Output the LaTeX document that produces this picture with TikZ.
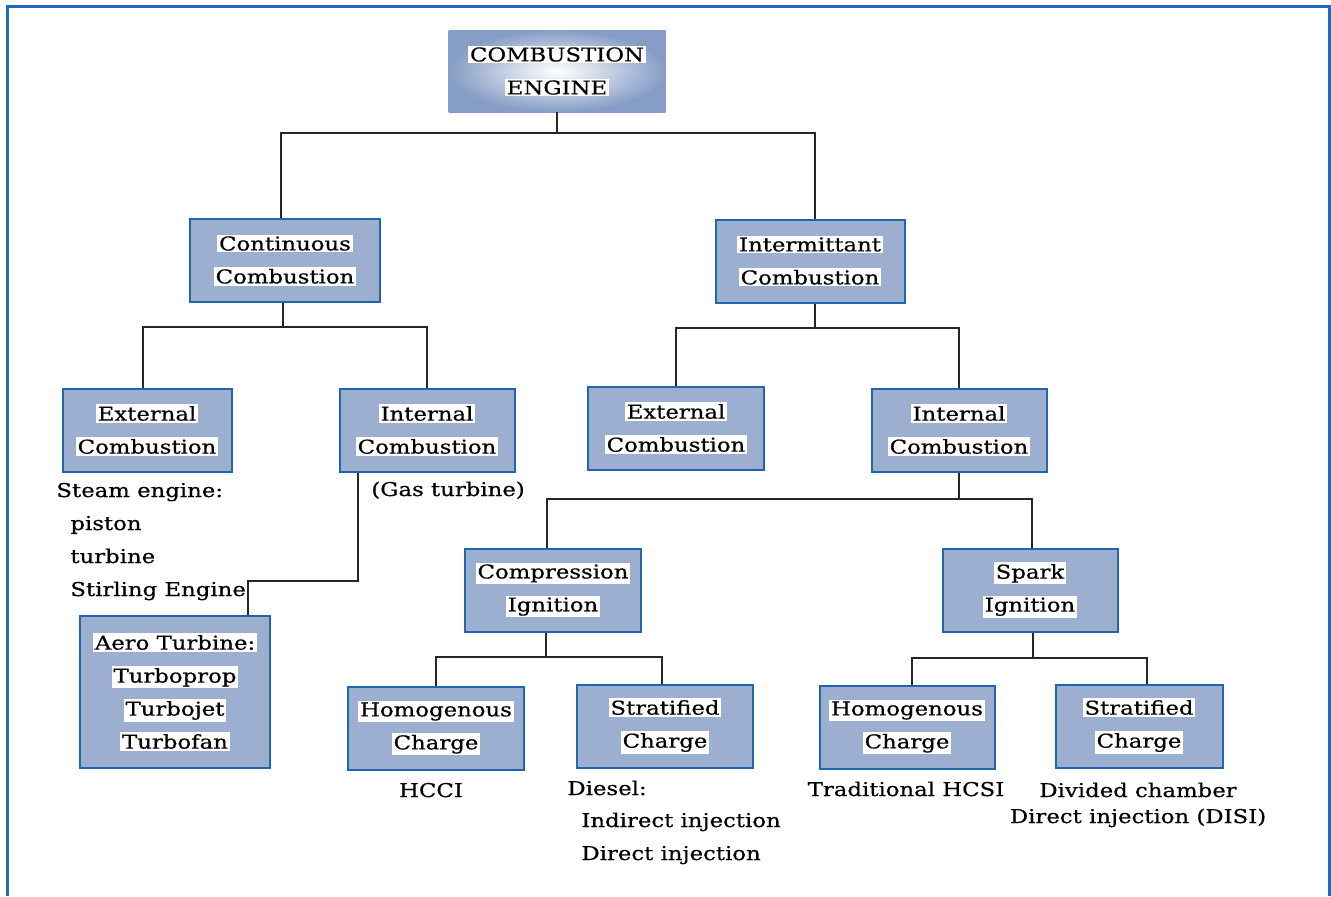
\documentclass[tikz,border=0pt]{standalone}
\usepackage{fontspec}
\setmainfont[FakeStretch=1.2, FakeBold=0.6]{DejaVu Serif}
\definecolor{boxfill}{HTML}{9DAFD1}
\definecolor{boxline}{HTML}{2166AD}
\definecolor{framecol}{HTML}{1A6BBA}
\definecolor{topblue}{HTML}{869DC6}
\newcommand{\hl}[1]{{\setlength{\fboxsep}{0.9pt}\colorbox{white}{#1}}}

\begin{document}
\begin{tikzpicture}[x=0.5pt,y=-0.5pt]

      \useasboundingbox (0,0) rectangle (1331,896);
      \draw[framecol, line width=1.5pt] (7,896) -- (7,6) -- (1329,6) -- (1329,896);

      \node[shade, inner color=white, outer color=topblue, align=center, inner sep=0pt,
            minimum width=108.5pt, minimum height=41pt,
            font=\fontsize{9.5}{16.5}\selectfont] (0) at (557,71) {\hl{COMBUSTION}\\\hl{ENGINE}};

      \begin{scope}[every node/.style={rectangle, draw=boxline, line width=1pt, fill=boxfill,
                    align=center, inner sep=0pt, minimum height=41.5pt, minimum width=88pt,
                    font=\fontsize{9.5}{16.5}\selectfont}]
        \node[minimum width=95pt]   (1)  at (285,260)  {\hl{Continuous}\\\hl{Combustion}};
        \node[minimum width=94.5pt] (2)  at (810,261)  {\hl{Intermittant}\\\hl{Combustion}};
        \node[minimum width=84.5pt] (3)  at (147,430)  {\hl{External}\\\hl{Combustion}};
        \node[minimum width=87.5pt] (4)  at (427,430)  {\hl{Internal}\\\hl{Combustion}};
        \node                       (5)  at (676,428)  {\hl{External}\\\hl{Combustion}};
        \node[minimum width=87.5pt] (6)  at (959,430)  {\hl{Internal}\\\hl{Combustion}};
        \node                       (7)  at (553,590)  {\hl{Compression}\\\hl{Ignition}};
        \node[minimum width=87.5pt] (8)  at (1030,590) {\hl{Spark}\\\hl{Ignition}};
        \node[minimum width=95pt, minimum height=76pt]
                                    (9)  at (175,692)  {\hl{Aero Turbine:}\\\hl{Turboprop}\\\hl{Turbojet}\\\hl{Turbofan}};
        \node                       (10) at (436,728)  {\hl{Homogenous}\\\hl{Charge}};
        \node                       (11) at (665,726)  {\hl{Stratified}\\\hl{Charge}};
        \node[minimum width=87.5pt] (12) at (907,727)  {\hl{Homogenous}\\\hl{Charge}};
        \node[minimum width=83.5pt] (13) at (1139,726) {\hl{Stratified}\\\hl{Charge}};
      \end{scope}

      \begin{scope}[every node/.style={inner sep=0pt, font=\fontsize{9.5}{16.5}\selectfont}]
        \node[anchor=base west] (s1) at (56,497)   {Steam engine:};
        \node[anchor=base west] (s2) at (70,530)   {piston};
        \node[anchor=base west] (s3) at (70,563)   {turbine};
        \node[anchor=base west] (s4) at (70,596)   {Stirling Engine};
        \node[anchor=base west] (g)  at (371,496)  {(Gas turbine)};
        \node[anchor=base]      (h1) at (431,797)  {HCCI};
        \node[anchor=base west] (d1) at (567,795)  {Diesel:};
        \node[anchor=base west] (d2) at (581,827)  {Indirect injection};
        \node[anchor=base west] (d3) at (581,860)  {Direct injection};
        \node[anchor=base]      (h2) at (906,796)  {Traditional HCSI};
        \node[anchor=base]      (v1) at (1138,797) {Divided chamber};
        \node[anchor=base]      (v2) at (1138,823) {Direct injection (DISI)};
      \end{scope}

      \begin{scope}[draw=black!85, line width=1pt]
        \draw (0.south) -- ++(0,21) -| ([xshift=-2pt]1.north);
        \draw (0.south) -- ++(0,21) -| ([xshift=2.5pt]2.north);
        \draw ([xshift=-1pt]1.south) -- ++(0,24) -| ([xshift=-2pt]3.north);
        \draw ([xshift=-1pt]1.south) -- ++(0,24) -| (4.north);
        \draw ([xshift=2.5pt]2.south) -- ++(0,24) -| (5.north);
        \draw ([xshift=2.5pt]2.south) -- ++(0,24) -| (6.north);
        \draw (6.south) -- ++(0,26) -| ([xshift=-3pt]7.north);
        \draw (6.south) -- ++(0,26) -| ([xshift=1pt]8.north);
        \draw ([xshift=-34.75pt]4.south) -- ++(0,108) -| ([xshift=36.5pt]9.north);
        \draw ([xshift=-3.5pt]7.south) -- ++(0,24) -| (10.north);
        \draw ([xshift=-3.5pt]7.south) -- ++(0,24) -| ([xshift=-1.5pt]11.north);
        \draw ([xshift=1.5pt]8.south) -- ++(0,25) -| ([xshift=2.5pt]12.north);
        \draw ([xshift=1.5pt]8.south) -- ++(0,25) -| ([xshift=4pt]13.north);
      \end{scope}

    \end{tikzpicture}
\end{document}
